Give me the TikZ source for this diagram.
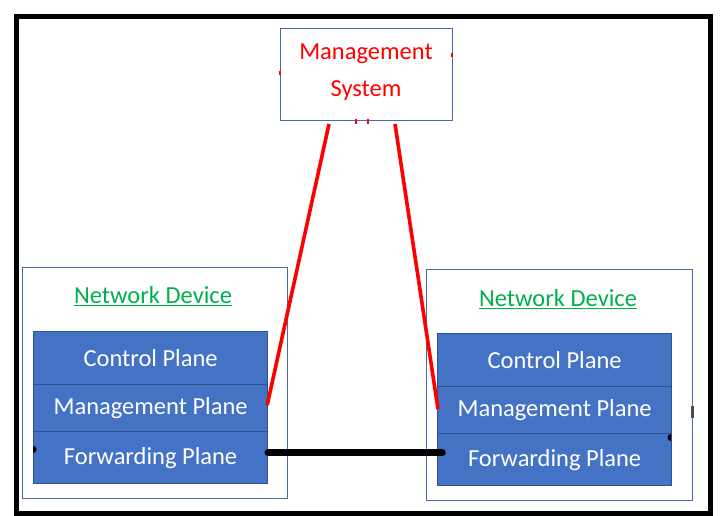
\documentclass[tikz,border=0pt]{standalone}
\usepackage{fontspec}
\setmainfont{Carlito}
\usetikzlibrary{calc}
\definecolor{blockblue}{HTML}{4472C4}
\definecolor{blockedge}{HTML}{2F528F}
\definecolor{boxedge}{HTML}{4A6AA8}
\definecolor{titlegreen}{HTML}{00B050}
\definecolor{mgmtred}{HTML}{FF0000}
\tikzset{
  frameline/.style={line width=5pt, draw=black},
  outerbox/.style={draw=boxedge, line width=1.2pt, fill=white},
  plane/.style={draw=blockedge, line width=1.2pt, fill=blockblue, text=white,
    font=\fontsize{24.5}{28}\selectfont, inner sep=0pt},
  title/.style={text=titlegreen, font=\fontsize{24.5}{28}\selectfont},
  mgmttext/.style={text=mgmtred, font=\fontsize{24.5}{37}\selectfont, align=center},
  redlink/.style={draw=mgmtred, line width=3.6pt},
  blacklink/.style={draw=black, line width=7.5pt, line cap=round},
}
\begin{document}
\begin{tikzpicture}[x=1pt,y=-1pt]
\useasboundingbox (0,0) rectangle (720,516);
\fill[white] (0,0) rectangle (720,516);
% outer frame
\draw[frameline] (16,17) rectangle (710,513);

% management system
\node[draw=boxedge, line width=1.2pt, minimum width=172pt, minimum height=92pt,
  anchor=north west, inner sep=0pt] (ms) at (280,28) {};
\node[mgmttext] (mstxt) at (366,72) {Management\\System};
\coordinate (msl) at (329,124);
\coordinate (msr) at (395,124);

% left device
\node[outerbox, minimum width=265pt, minimum height=231pt, anchor=north west, inner sep=0pt] (devL) at (22,267) {};
\node[title] (titleL) at (153,296) {\underline{Network Device}};
\node[plane, minimum width=234pt, minimum height=53pt, anchor=north west] (cpL) at (33,331) {Control Plane};
\node[plane, minimum width=234pt, minimum height=47pt, anchor=north west] (mpL) at (33,384) {Management Plane};
\node[plane, minimum width=234pt, minimum height=52pt, anchor=north west] (fpL) at (33,431) {Forwarding Plane};

% right device
\node[outerbox, minimum width=266pt, minimum height=231pt, anchor=north west, inner sep=0pt] (devR) at (426,269) {};
\node[title] (titleR) at (558,299) {\underline{Network Device}};
\node[plane, minimum width=234pt, minimum height=53pt, anchor=north west] (cpR) at (437,333) {Control Plane};
\node[plane, minimum width=234pt, minimum height=47pt, anchor=north west] (mpR) at (437,386) {Management Plane};
\node[plane, minimum width=234pt, minimum height=52pt, anchor=north west] (fpR) at (437,433) {Forwarding Plane};

% links
\coordinate (mpLend) at ([xshift=-1pt,yshift=3pt]mpL.east);
\coordinate (mpRend) at ([xshift=1pt,yshift=1pt]mpR.west);
\draw[redlink] (msl) -- (mpLend);
\draw[redlink] (msr) -- (mpRend);
\coordinate (fpLend) at ([yshift=5pt]fpL.east);
\coordinate (fpRend) at ($(fpR.west |- fpLend)+(5,0)$);
\draw[blacklink] (fpLend) -- (fpRend);

% small stubs
\fill[black] (33,446) arc[start angle=90,end angle=-90,radius=3.5pt] -- cycle;
\fill[black] (671,434) arc[start angle=90,end angle=270,radius=3.5pt] -- cycle;
\fill[gray!60!black] (691,406) rectangle (694,418);
\fill[mgmtred] (279,71) rectangle (281,75);
\fill[mgmtred] (451,53) rectangle (453,57);
\fill[mgmtred] (355,119) rectangle (357,124);
\fill[mgmtred] (367,119) rectangle (369,124);
\end{tikzpicture}
\end{document}
